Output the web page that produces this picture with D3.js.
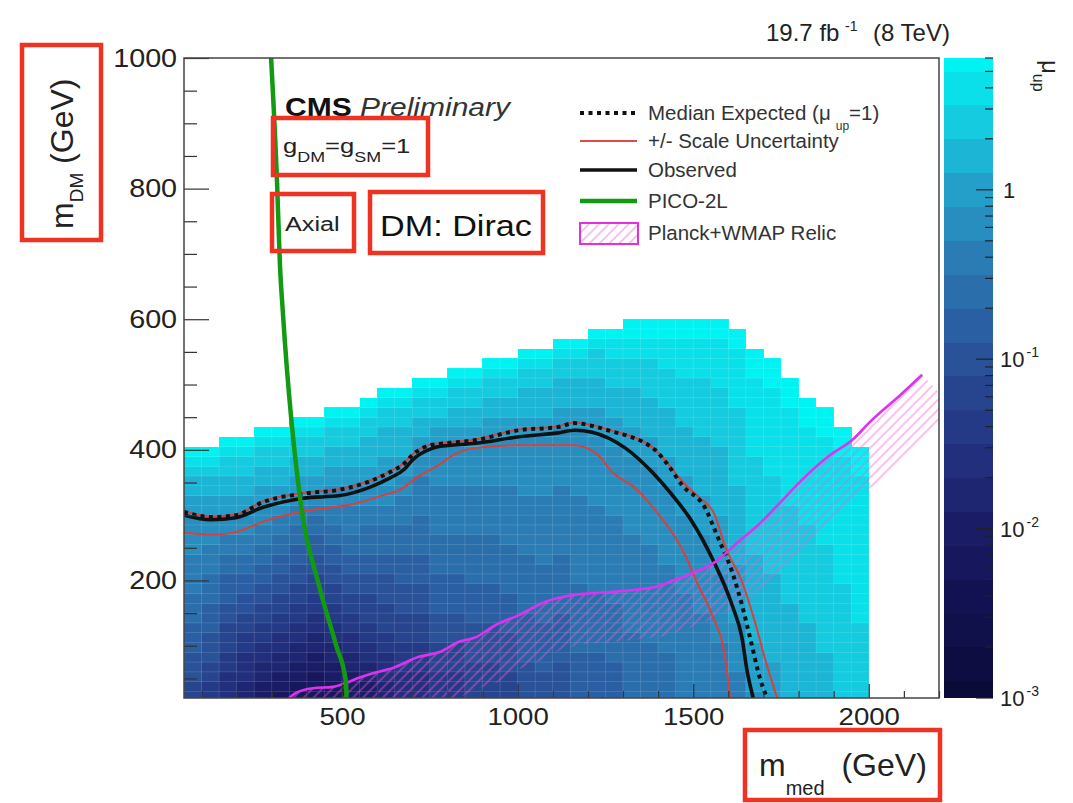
<!DOCTYPE html>
<html>
<head>
<meta charset="utf-8">
<script src="https://cdn.jsdelivr.net/npm/d3@7"></script>
<style>
  body { margin: 0; background: #fff; }
  svg { display: block; font-family: "Liberation Sans", Arial, Helvetica, sans-serif; }
</style>
</head>
<body>
<svg id="chart" width="1073" height="803"></svg>
<script>
// ---------------- DATA ----------------
const xDomain = [50, 2200];          // m_med (GeV)
const yDomain = [20, 1000];          // m_DM (GeV)
const zDomain = [0.001, 6];          // mu_up colour axis
const xMajorTicks = [500, 1000, 1500, 2000];
const xMinorTicks = [100, 200, 300, 400, 600, 700, 800, 900, 1100, 1200, 1300, 1400, 1600, 1700, 1800, 1900, 2100, 2200];
const yMajorTicks = [200, 400, 600, 800, 1000];
const yMinorTicks = [50, 100, 150, 250, 300, 350, 450, 500, 550, 650, 700, 750, 850, 900, 950];
const zMajorTicks = [0.001, 0.01, 0.1, 1];
const zTickExponents = ["-3", "-2", "-1", ""];

// heat-map binning (GeV)
const xBinEdges = [50,100,150,200,250,300,350,400,450,500,550,600,650,700,750,800,850,900,950,1000,
                   1050,1100,1150,1200,1250,1300,1350,1400,1450,1500,1550,1600,1650,1700,1750,1800,1850,1900,1950,2000];
const yBinEdges = [15,30,45,60,75,90,105,120,135,150,165,180,195,210,225,240,255,270,285,300,
                   315,330,345,360,375,390,405,420,435,450,465,480,495,510,525,540,555,570,585,600];

// colour levels: character -> log10(mu_up)
const muLevelChars = "0123456789abcdef";
const muLevelLog = [-2.2,-2.0,-1.8,-1.6,-1.4,-1.2,-1.0,-0.8,-0.6,-0.4,-0.2,0.0,0.2,0.4,0.6,0.8];

// one entry per m_med bin, run-length "level:count" from the lowest m_DM bin upward
const muColumns = [
  "5:2 6:3 7:3 8:3 9:4 a:4 b:2 c:2 d:1 e:1 f:1",
  "4:2 5:2 6:3 7:3 8:3 9:3 a:3 b:2 c:2 d:1 e:1 f:1",
  "3:3 4:2 5:3 6:2 7:3 8:2 9:2 a:2 b:2 c:2 d:2 e:1 f:1",
  "2:2 3:3 4:2 5:2 6:2 7:2 8:2 9:2 a:2 b:2 c:2 d:2 e:1 f:1",
  "1:2 2:2 3:2 4:2 5:2 6:2 7:2 8:2 9:2 a:2 b:2 c:2 d:2 e:1 f:1",
  "0:1 1:2 2:2 3:2 4:2 5:2 6:2 7:2 8:2 9:2 a:1 b:2 c:2 d:2 e:1 f:1",
  "0:2 1:2 2:2 3:2 4:2 5:2 6:2 7:2 8:2 9:2 a:1 b:2 c:2 d:2 e:1 f:1",
  "0:3 1:2 2:2 3:2 4:2 5:2 6:2 7:2 8:2 9:1 a:1 b:2 c:2 d:2 e:1 f:1",
  "0:2 1:2 2:2 3:2 4:2 5:2 6:2 7:2 8:2 9:2 a:2 b:2 c:2 d:2 e:1 f:1",
  "1:3 2:2 3:2 4:2 5:2 6:2 7:2 8:2 9:3 a:2 b:2 c:2 d:2 e:1 f:1",
  "1:2 2:2 3:2 4:2 5:3 6:2 7:2 8:3 9:2 a:2 b:2 c:3 d:2 e:1 f:1",
  "2:2 3:3 4:2 5:3 6:3 7:2 8:3 9:2 a:2 b:3 c:3 d:2 e:1 f:1",
  "3:3 4:3 5:3 6:3 7:3 8:3 9:3 a:2 b:2 c:3 d:2 e:1 f:1",
  "3:3 4:3 5:3 6:3 7:3 8:4 9:4 a:2 b:2 c:2 d:2 e:1 f:1",
  "4:3 5:3 6:3 7:4 8:4 9:5 a:4 b:2 c:1 d:2 e:1 f:1",
  "4:3 5:3 6:3 7:4 8:4 9:5 a:4 b:2 c:2 d:2 e:1 f:1",
  "5:4 6:4 7:4 8:5 9:5 a:4 b:2 c:2 d:2 e:1 f:1",
  "5:4 6:4 7:4 8:5 9:5 a:5 b:2 c:2 d:2 e:1 f:1",
  "5:3 6:4 7:4 8:5 9:6 a:5 b:2 c:2 d:2 e:1 f:1",
  "6:4 7:5 8:6 9:6 a:6 b:2 c:3 d:2 e:1 f:1",
  "6:3 7:5 8:6 9:7 a:6 b:2 c:3 d:2 e:1 f:1",
  "6:4 7:5 8:6 9:7 a:6 b:2 c:3 d:2 e:1 f:1",
  "7:5 8:7 9:9 a:7 b:2 c:3 d:2 e:1 f:1",
  "7:5 8:6 9:9 a:7 b:3 c:3 d:3 e:1 f:1",
  "7:4 8:6 9:9 a:7 b:3 c:3 d:3 e:2 f:1",
  "8:7 9:10 a:8 b:3 c:4 d:3 e:2 f:2",
  "8:6 9:10 a:8 b:3 c:4 d:4 e:2 f:2",
  "8:5 9:9 a:8 b:3 c:5 d:4 e:3 f:2",
  "9:11 a:8 b:4 c:5 d:5 e:4 f:2",
  "9:9 a:8 b:4 c:6 d:6 e:4 f:2",
  "9:6 a:7 b:6 c:7 d:6 e:5 f:2",
  "9:3 a:5 b:6 c:8 d:8 e:6 f:2",
  "a:1 b:5 c:9 d:10 e:8 f:3",
  "b:4 c:9 d:10 e:9 f:3",
  "c:10 d:10 e:10 f:3",
  "c:8 d:10 e:10 f:3",
  "c:5 d:11 e:11 f:3",
  "d:12 e:13 f:3",
  "d:8 e:15 f:3"
];

// colour bar bands (log10 centres)
const zBandLog = [-3.0,-2.8,-2.6,-2.4,-2.2,-2.0,-1.8,-1.6,-1.4,-1.2,-1.0,-0.8,-0.6,-0.4,-0.2,0.0,0.2,0.4,0.6,0.8];
const paletteLog   = [-3.0, -2.4, -2.0, -1.6, -1.2, -0.8, -0.4, 0.0, 0.4, 0.78];
const paletteColor = ["#0b0b38","#121253","#1a1c66","#212f7c","#27458f","#2b5fa3","#2b7cb4","#249fca","#14cbdf","#00f3f3"];

// limit contours [m_med, m_DM]
const expectedLimit = [[50,305],[127,297],[198,300],[275,320],[390,333],[494,339],[580,352],[637,366],[679,380],[700,392],[751,407],[776,409],[881,415],[1004,430],[1115,435],[1163,441],[1210,437],[1257,430],[1391,400],[1428,377],[1468,346],[1534,311],[1571,265],[1611,213],[1639,162],[1667,101],[1685,60],[1710,20]];
const scaleUp   = [[50,306],[127,298],[198,301],[275,321],[390,334],[494,340],[580,353],[637,367],[679,381],[700,393],[751,408],[776,410],[881,416],[1004,431],[1115,436],[1163,442],[1210,438],[1257,431],[1391,401],[1428,379],[1475,348],[1520,326],[1560,302],[1591,252],[1639,198],[1676,136],[1704,81],[1739,20]];
const scaleDown = [[50,273],[127,270],[198,274],[275,290],[400,307],[531,317],[620,331],[662,338],[720,360],[776,377],[816,392],[881,403],[1004,407],[1163,407],[1229,392],[1269,366],[1334,342],[1391,308],[1477,239],[1514,193],[1554,147],[1591,81],[1605,20]];
const observedLimit = [[50,300],[127,293],[198,296],[275,312],[389,326],[494,330],[580,343],[637,357],[679,371],[700,384],[751,401],[776,405],[881,410],[1004,420],[1115,426],[1163,430],[1212,427],[1306,403],[1383,366],[1440,331],[1497,290],[1554,234],[1611,162],[1639,112],[1654,60],[1671,20]];
const pico2L = [[298,1000],[315,809],[323,686],[332,607],[383,316],[434,193],[483,101],[511,45],[513,20]];
const relicLine = [[349,20],[369,28],[417,35],[474,37],[511,43],[548,51],[588,58],[645,66],[719,83],[776,90],[833,106],[881,113],[938,132],[1004,147],[1078,167],[1163,178],[1257,182],[1391,190],[1448,201],[1497,211],[1562,228],[1628,259],[1685,285],[1742,316],[1804,351],[1890,392],[1953,415],[2004,443],[2090,484],[2152,515]];

const legendLabels = ["Median Expected (μ", "+/- Scale Uncertainty", "Observed", "PICO-2L", "Planck+WMAP Relic"];

// ---------------- LAYOUT ----------------
const L = { left: 184, right: 939, top: 58, bottom: 698, barX0: 944, barX1: 993 };
const RED = "#ee3322";

const svg = d3.select("#chart");
const defs = svg.append("defs");
defs.append("clipPath").attr("id", "plotClip").append("rect")
  .attr("x", L.left).attr("y", L.top).attr("width", L.right - L.left).attr("height", L.bottom - L.top);
const pat = defs.append("pattern").attr("id", "hatch").attr("patternUnits", "userSpaceOnUse")
  .attr("width", 7).attr("height", 7).attr("patternTransform", "rotate(45)");
pat.append("line").attr("x1", 1).attr("y1", 0).attr("x2", 1).attr("y2", 7)
  .attr("stroke", "#f25ad6").attr("stroke-width", 1.1).attr("stroke-opacity", 0.7);

const x = d3.scaleLinear().domain(xDomain).range([L.left, L.right]);
const y = d3.scaleLinear().domain(yDomain).range([L.bottom, L.top]);
const z = d3.scaleLog().domain(zDomain).range([L.bottom, L.top]);
const pal = d3.scaleLinear().domain(paletteLog).range(paletteColor).clamp(true);

// ---------------- HEAT MAP ----------------
const cells = [];
muColumns.forEach((col, i) => {
  let row = 0;
  col.split(" ").forEach(tok => {
    const [c, n] = tok.split(":");
    for (let k = 0; k < +n; k++) {
      cells.push({ x0: xBinEdges[i], x1: xBinEdges[i + 1], y0: yBinEdges[row], y1: yBinEdges[row + 1],
                   lg: muLevelLog[muLevelChars.indexOf(c)] });
      row++;
    }
  });
});
const plotG = svg.append("g").attr("clip-path", "url(#plotClip)");
plotG.append("g").selectAll("rect").data(cells).join("rect")
  .attr("x", d => x(d.x0)).attr("y", d => y(d.y1))
  .attr("width", d => x(d.x1) - x(d.x0) + 0.4).attr("height", d => y(d.y0) - y(d.y1) + 0.4)
  .attr("fill", d => pal(d.lg)).attr("shape-rendering", "crispEdges");
plotG.append("g").selectAll("rect").data(cells).join("rect")
  .attr("x", d => x(d.x0)).attr("y", d => y(d.y1))
  .attr("width", d => x(d.x1) - x(d.x0)).attr("height", d => y(d.y0) - y(d.y1))
  .attr("fill", "none").attr("stroke", "rgba(255,255,255,0.10)").attr("stroke-width", 0.7);

// relic hatch band (offset to lower-right of the relic line, in pixel space)
const rp = relicLine.map(d => [x(d[0]), y(d[1])]);
const off = rp.map((p, i) => {
  const a = rp[Math.max(0, i - 1)], b = rp[Math.min(rp.length - 1, i + 1)];
  const dx = b[0] - a[0], dy = b[1] - a[1], len = Math.hypot(dx, dy);
  return [p[0] - dy / len * 50, p[1] + dx / len * 50];
});
plotG.append("path").attr("d", "M" + rp.concat(off.reverse()).map(p => p.join(",")).join("L") + "Z")
  .attr("fill", "url(#hatch)").attr("stroke", "none");

const line = d3.line().x(d => x(d[0])).y(d => y(d[1])).curve(d3.curveMonotoneX);
plotG.append("path").attr("d", line(scaleDown)).attr("fill", "none").attr("stroke", "#d9403c").attr("stroke-width", 2);
plotG.append("path").attr("d", line(scaleUp)).attr("fill", "none").attr("stroke", "#d9403c").attr("stroke-width", 2);
plotG.append("path").attr("d", line(observedLimit)).attr("fill", "none").attr("stroke", "#111").attr("stroke-width", 3.6);
plotG.append("path").attr("d", line(expectedLimit)).attr("fill", "none").attr("stroke", "#111")
  .attr("stroke-width", 4).attr("stroke-dasharray", "4,4.5");
plotG.append("path").attr("d", line(relicLine)).attr("fill", "none").attr("stroke", "#dd33ee").attr("stroke-width", 2.6);
plotG.append("path").attr("d", line(pico2L)).attr("fill", "none").attr("stroke", "#139a13").attr("stroke-width", 4.5);

// ---------------- AXES ----------------
const TICK_SX = 1.15;
function styleAxis(g, fs) {
  g.select(".domain").remove();
  g.selectAll(".tick line").attr("stroke", "#333").attr("stroke-width", 1.2);
  g.selectAll(".tick text").attr("font-size", fs).attr("fill", "#222")
    .attr("font-family", "'Liberation Sans', Arial, sans-serif")
    .attr("transform", `scale(${TICK_SX},1)`);
}
svg.append("g").attr("transform", `translate(${L.left},0)`)
  .call(d3.axisLeft(y).tickValues(yMinorTicks).tickSize(-13).tickFormat(""))
  .call(g => styleAxis(g, 24));
svg.append("g").attr("transform", `translate(${L.left},0)`)
  .call(d3.axisLeft(y).tickValues(yMajorTicks).tickSize(-25).tickPadding(6).tickFormat(d3.format("d")))
  .call(g => styleAxis(g, 25));
svg.append("g").attr("transform", `translate(0,${L.bottom})`)
  .call(d3.axisBottom(x).tickValues(xMinorTicks).tickSize(-7).tickFormat(""))
  .call(g => styleAxis(g, 24));
svg.append("g").attr("transform", `translate(0,${L.bottom})`)
  .call(d3.axisBottom(x).tickValues(xMajorTicks).tickSize(-14).tickPadding(10).tickFormat(d3.format("d")))
  .call(g => styleAxis(g, 24));

svg.append("rect").attr("x", L.left).attr("y", L.top).attr("width", L.right - L.left).attr("height", L.bottom - L.top)
  .attr("fill", "none").attr("stroke", "#444").attr("stroke-width", 1.5);

// ---------------- COLOUR BAR ----------------
const lmin = Math.log10(zDomain[0]), lmax = Math.log10(zDomain[1]);
svg.append("g").selectAll("rect").data(zBandLog).join("rect")
  .attr("x", L.barX0).attr("width", L.barX1 - L.barX0)
  .attr("y", v => z(Math.pow(10, Math.min(v + 0.1, lmax))))
  .attr("height", v => z(Math.pow(10, Math.max(v - 0.1, lmin))) - z(Math.pow(10, Math.min(v + 0.1, lmax))) + 0.3)
  .attr("fill", v => pal(v)).attr("shape-rendering", "crispEdges");
const zt = z.ticks();
svg.append("g").selectAll("line").data(zt).join("line")
  .attr("x1", L.barX1).attr("x2", v => L.barX1 - (zMajorTicks.includes(v) ? 17 : 8))
  .attr("y1", v => z(v)).attr("y2", v => z(v)).attr("stroke", "#222").attr("stroke-width", 1.2);
const zl = svg.append("g").attr("font-size", 22).attr("fill", "#222");
zMajorTicks.forEach((v, i) => {
  const t = zl.append("text").attr("x", 1000).attr("y", z(v) + 8);
  if (zTickExponents[i] === "") { t.append("tspan").attr("x", 1003).text("1"); }
  else {
    t.append("tspan").text("10");
    t.append("tspan").attr("font-size", 14).attr("dx", 2).attr("dy", -10).text(zTickExponents[i]);
  }
});
const zTitle = svg.append("text").attr("transform", "translate(1042,60) rotate(90)").attr("font-size", 24).attr("fill", "#222");
zTitle.append("tspan").text("μ");
zTitle.append("tspan").attr("font-size", 16).attr("dy", 9).text("up");

// ---------------- TEXTS ----------------
function textAt(px, py, size, sx) {
  return svg.append("text").attr("transform", `translate(${px},${py}) scale(${sx},1)`).attr("font-size", size);
}
const lumiText = svg.append("text").attr("x", 766).attr("y", 41).attr("font-size", 24).attr("fill", "#222");
lumiText.append("tspan").text("19.7 fb");
lumiText.append("tspan").attr("font-size", 14).attr("x", 845).attr("dy", -10).text("-1");
lumiText.append("tspan").attr("x", 873).attr("dy", 10).text("(8 TeV)");

const cms = textAt(285, 116, 25, 1.2).attr("fill", "#111");
cms.append("tspan").attr("font-weight", "bold").text("CMS ");
cms.append("tspan").attr("font-style", "italic").attr("fill", "#333").text("Preliminary");

const gtxt = textAt(283, 153, 20, 1.28).attr("fill", "#222");
gtxt.append("tspan").text("g");
gtxt.append("tspan").attr("font-size", 14).attr("dy", 9).text("DM");
gtxt.append("tspan").attr("dy", -9).text("=g");
gtxt.append("tspan").attr("font-size", 14).attr("dy", 9).text("SM");
gtxt.append("tspan").attr("dy", -9).text("=1");

textAt(285, 231, 21, 1.2).attr("fill", "#222").text("Axial");
textAt(380, 236, 30, 1.14).attr("fill", "#111").text("DM: Dirac");

// red annotation boxes
const boxes = [[273,118,155,57],[272,194,82,57],[370,192,173,61],[22,45,79,195],[745,730,195,70]];
svg.append("g").selectAll("rect").data(boxes).join("rect")
  .attr("x", d => d[0]).attr("y", d => d[1]).attr("width", d => d[2]).attr("height", d => d[3])
  .attr("fill", "none").attr("stroke", RED).attr("stroke-width", 4.5);

// axis titles
const yTitle = svg.append("text").attr("transform", "translate(73,229) rotate(-90)").attr("font-size", 32).attr("fill", "#222");
yTitle.append("tspan").text("m");
yTitle.append("tspan").attr("font-size", 19).attr("dy", 10).text("DM");
yTitle.append("tspan").attr("dy", -10).text(" (GeV)");

const xTitle = svg.append("text").attr("x", 759).attr("y", 776).attr("font-size", 32).attr("fill", "#222");
xTitle.append("tspan").text("m");
xTitle.append("tspan").attr("font-size", 20).attr("dy", 19).text("med");
xTitle.append("tspan").attr("dx", 8).attr("dy", -19).text(" (GeV)");

// ---------------- LEGEND ----------------
const legRows = [113, 141, 170, 201, 233];
const lg = svg.append("g");
lg.append("line").attr("x1", 580).attr("x2", 635).attr("y1", legRows[0]).attr("y2", legRows[0])
  .attr("stroke", "#111").attr("stroke-width", 4).attr("stroke-dasharray", "4,4.5");
lg.append("line").attr("x1", 580).attr("x2", 637).attr("y1", legRows[1]).attr("y2", legRows[1])
  .attr("stroke", "#e04a4a").attr("stroke-width", 2);
lg.append("line").attr("x1", 580).attr("x2", 637).attr("y1", legRows[2]).attr("y2", legRows[2])
  .attr("stroke", "#111").attr("stroke-width", 3.6);
lg.append("line").attr("x1", 580).attr("x2", 637).attr("y1", legRows[3]).attr("y2", legRows[3])
  .attr("stroke", "#139a13").attr("stroke-width", 4.5);
lg.append("rect").attr("x", 580).attr("y", legRows[4] - 10).attr("width", 58).attr("height", 21)
  .attr("fill", "url(#hatch)").attr("stroke", "#e030e0").attr("stroke-width", 2);
legendLabels.forEach((lab, i) => {
  const t = lg.append("text").attr("x", 648).attr("y", legRows[i] + 7).attr("font-size", 20.5).attr("fill", "#333");
  t.append("tspan").text(lab);
  if (i === 0) {
    t.append("tspan").attr("font-size", 12).attr("dx", 5).attr("dy", 10).text("up");
    t.append("tspan").attr("dy", -10).text("=1)");
  }
});
</script>
</body>
</html>
